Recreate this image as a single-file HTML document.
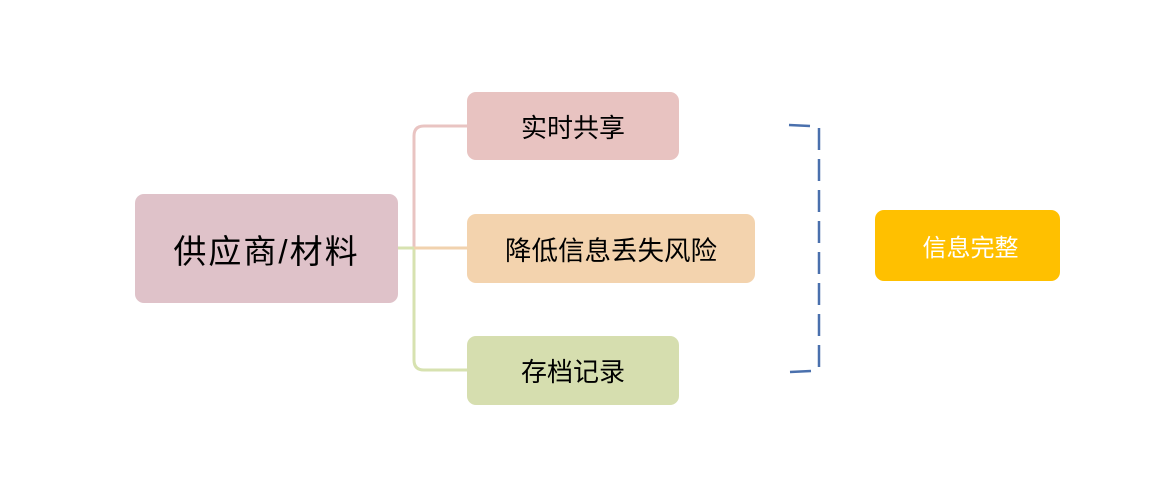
<!DOCTYPE html>
<html><head><meta charset="utf-8"><style>
body{margin:0;width:1166px;height:491px;background:#fff;position:relative;overflow:hidden;font-family:"Liberation Sans","Noto Sans CJK SC",sans-serif}
.b{position:absolute;border-radius:9px;display:flex;align-items:center;justify-content:center;color:#000}
</style></head><body>
<svg width="1166" height="491" style="position:absolute;left:0;top:0">
<path d="M467 126 H424 Q414 126 414 136 V248" fill="none" stroke="#e9c4c2" stroke-width="3"/>
<path d="M414 248 V360 Q414 370 424 370 H467" fill="none" stroke="#d7e2b0" stroke-width="3"/>
<path d="M398 248 H414" stroke="#d7e2b0" stroke-width="3"/>
<path d="M414 248 H467" stroke="#f1d2ae" stroke-width="3"/>
<path d="M789 125 L810 126" stroke="#4a70ad" stroke-width="2.5"/>
<path d="M819 128 V371" stroke="#4a70ad" stroke-width="2.5" stroke-dasharray="22 9"/>
<path d="M790 372 L811 371" stroke="#4a70ad" stroke-width="2.5"/>
</svg>
<div class="b" style="left:135px;top:194px;width:263px;height:109px;background:#dfc2c9;font-size:33px;letter-spacing:2px">供应商/材料</div>
<div class="b" style="left:467px;top:92px;width:212px;height:68px;background:#e8c3c1;font-size:26px">实时共享</div>
<div class="b" style="left:467px;top:214px;width:288px;height:69px;background:#f3d3ae;font-size:26.5px">降低信息丢失风险</div>
<div class="b" style="left:467px;top:336px;width:212px;height:69px;background:#d6deaf;font-size:26px">存档记录</div>
<div class="b" style="left:878px;top:210px;width:185px;height:71px;background:#ffc000;color:#fff;font-size:24px;left:875px;padding-left:6px;box-sizing:border-box">信息完整</div>
</body></html>
